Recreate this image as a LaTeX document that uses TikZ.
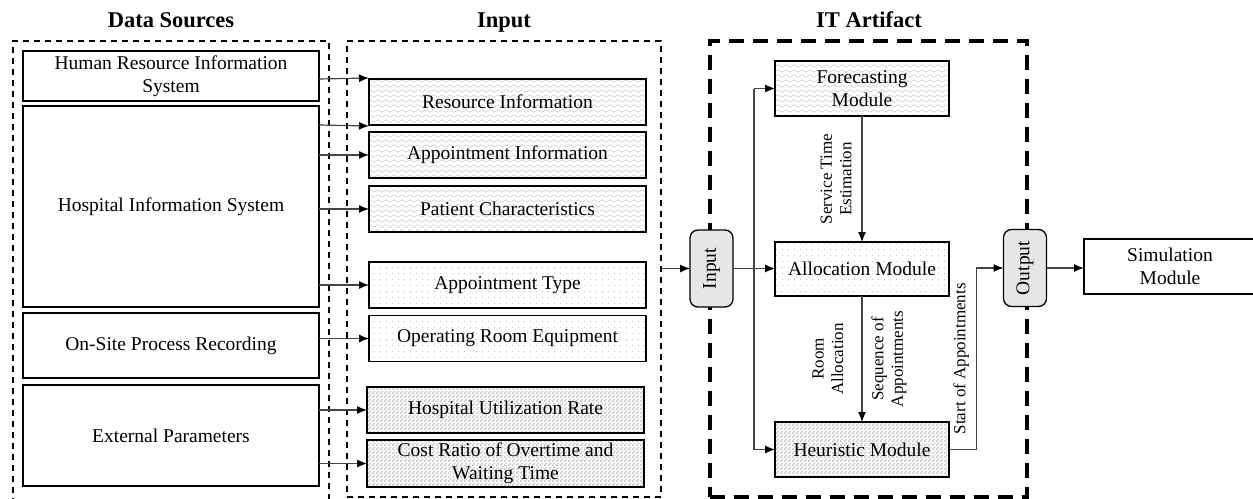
\documentclass[tikz,border=0pt]{standalone}
\usepackage{fontspec}
\setmainfont{Liberation Serif}
\usetikzlibrary{arrows.meta,patterns,calc}

% fill patterns for the three kinds of input data
\pgfdeclarepatternformonly{wavy}{\pgfqpoint{-1pt}{-1pt}}{\pgfqpoint{9pt}{6pt}}{\pgfqpoint{8pt}{5pt}}{%
  \pgfsetlinewidth{0.45pt}%
  \pgfpathmoveto{\pgfqpoint{0pt}{2pt}}%
  \pgfpathcurveto{\pgfqpoint{1.33pt}{3.8pt}}{\pgfqpoint{2.67pt}{3.8pt}}{\pgfqpoint{4pt}{2pt}}%
  \pgfpathcurveto{\pgfqpoint{5.33pt}{0.2pt}}{\pgfqpoint{6.67pt}{0.2pt}}{\pgfqpoint{8pt}{2pt}}%
  \pgfusepath{stroke}}
\pgfdeclarepatternformonly{finedots}{\pgfqpoint{0pt}{0pt}}{\pgfqpoint{6pt}{6pt}}{\pgfqpoint{6pt}{6pt}}{%
  \pgfpathcircle{\pgfqpoint{3pt}{3pt}}{0.6pt}\pgfusepath{fill}}
\pgfdeclarepatternformonly{checks}{\pgfqpoint{0pt}{0pt}}{\pgfqpoint{4pt}{4pt}}{\pgfqpoint{4pt}{4pt}}{%
  \pgfpathrectangle{\pgfqpoint{0pt}{0pt}}{\pgfqpoint{2pt}{2pt}}%
  \pgfpathrectangle{\pgfqpoint{2pt}{2pt}}{\pgfqpoint{2pt}{2pt}}%
  \pgfusepath{fill}}

\newcommand\fsmain{\fontsize{19.5}{23}\selectfont}
\newcommand\fstitle{\fontsize{22.5}{26}\selectfont\bfseries}
\newcommand\fslabel{\fontsize{17}{19.5}\selectfont}

\definecolor{linegray}{HTML}{444444}
\definecolor{portgray}{HTML}{E6E6E6}

\tikzset{
  box/.style={draw, line width=1.6pt, inner sep=0pt, outer sep=0pt,
    align=center, font=\fsmain},
  wavebox/.style={box, pattern=wavy, pattern color=black!22},
  dotbox/.style={box, pattern=finedots, pattern color=black!30},
  checkbox/.style={box, pattern=checks, pattern color=black!22},
  port/.style={draw, line width=1.3pt, fill=portgray, rounded corners=8pt,
    inner sep=0pt, outer sep=0pt, minimum width=43, minimum height=77,
    font=\fsmain},
  title/.style={font=\fstitle, anchor=base},
  lbl/.style={font=\fslabel, align=center, rotate=90, inner sep=0pt},
  frame/.style={inner sep=0pt, outer sep=0pt},
  thindash/.style={frame, draw, line width=1.4pt, dash pattern=on 6pt off 5pt},
  thickdash/.style={frame, draw, line width=4pt, dash pattern=on 15pt off 9pt},
  conn/.style={draw=linegray, line width=1.2pt},
  arr/.style={conn, -{Latex[length=10pt,width=8pt,black]}},
}

\begin{document}
\begin{tikzpicture}[x=1pt,y=-1pt]
\useasboundingbox (0,0) rectangle (1253,498);

% group frames
\node[thindash, minimum width=316, minimum height=462] (fds) at (171,272) {};
\node[thindash, minimum width=314, minimum height=456] (fin) at (504,269) {};
\node[thickdash, minimum width=317, minimum height=456] (fit) at (868.5,269) {};

% headings
\node[title] (tds) at (171,27) {Data Sources};
\node[title] (tin) at (504,27) {Input};
\node[title] (tit) at (869,27) {IT Artifact};

% data sources
\node[box, minimum width=296, minimum height=50] (hris) at (171,76) {Human Resource Information\\System};
\node[box, minimum width=296, minimum height=201] (his) at (171,206.5) {Hospital Information System};
\node[box, minimum width=296, minimum height=65] (osr) at (171,345.5) {On-Site Process Recording};
\node[box, minimum width=296, minimum height=101] (ext) at (171,435.5) {External Parameters};

% input data
\node[wavebox, minimum width=277, minimum height=46] (ri) at (507.5,102) {Resource Information};
\node[wavebox, minimum width=277, minimum height=46] (ai) at (507.5,155) {Appointment Information};
\node[wavebox, minimum width=277, minimum height=46] (pc) at (507.5,209) {Patient Characteristics};
\node[dotbox, minimum width=277, minimum height=46] (at) at (507.5,285) {Appointment Type};
\node[dotbox, minimum width=277, minimum height=46] (ore) at (507.5,338.5) {Operating Room Equipment};
\node[checkbox, minimum width=277, minimum height=46] (hu) at (505.5,410) {Hospital Utilization Rate};
\node[checkbox, minimum width=277, minimum height=47] (cr) at (505.5,463.5) {Cost Ratio of Overtime and\\Waiting Time};

% IT artifact
\node[port] (inp) at (711.5,268.5) {\rotatebox{90}{Input}};
\node[wavebox, minimum width=174, minimum height=55] (fm) at (862,88.5) {Forecasting\\Module};
\node[dotbox, minimum width=174, minimum height=54] (am) at (862,269) {Allocation Module};
\node[checkbox, minimum width=174, minimum height=55] (hm) at (862,449.5) {Heuristic Module};
\node[port] (out) at (1025,268) {\rotatebox{90}{Output}};
\node[box, minimum width=172, minimum height=55] (sim) at (1170,266.5) {Simulation\\Module};

% data sources -> input data
\draw[arr] (hris.east |- ri.north west) -- ([yshift=1]ri.north west);
\draw[arr] (his.east |- ri.south west) -- ([yshift=-1]ri.south west);
\draw[arr] (his.east |- ai.west) -- (ai.west);
\draw[arr] (his.east |- pc.west) -- (pc.west);
\draw[arr] (his.east |- at.west) -- (at.west);
\draw[arr] (osr.east |- ore.west) -- (ore.west);
\draw[arr] (ext.east |- hu.west) -- (hu.west);
\draw[arr] (ext.east |- cr.west) -- (cr.west);

% input data -> IT artifact
\draw[arr] (fin.east |- inp.west) -- (inp.west);
\draw[arr] (inp.east) -- (am.west |- inp.east);
\coordinate (j) at ($(inp.east)!0.5!(am.west)$);
\draw[conn] (j |- fm.west) -- (j |- hm.west);
\draw[arr] (j |- fm.west) -- (fm.west);
\draw[arr] (j |- hm.west) -- (hm.west);

% module chain
\draw[arr] (fm.south) -- node[xshift=-26pt, lbl] {Service Time\\Estimation} (am.north);
\draw[arr] (am.south) -- node[xshift=-34pt, lbl] {Room\\Allocation}
  node[xshift=27pt, lbl] {Sequence of\\Appointments} (hm.north);
\coordinate (k) at ($(hm.east)!0.5!(out.west)$);
\draw[arr] (hm.east) -- (k |- hm.east) -- node[xshift=-15pt, lbl] {Start of Appointments} (k |- out.west) -- (out.west);

% output -> simulation
\draw[arr] (out.east) -- (sim.west |- out.east);
\end{tikzpicture}
\end{document}
